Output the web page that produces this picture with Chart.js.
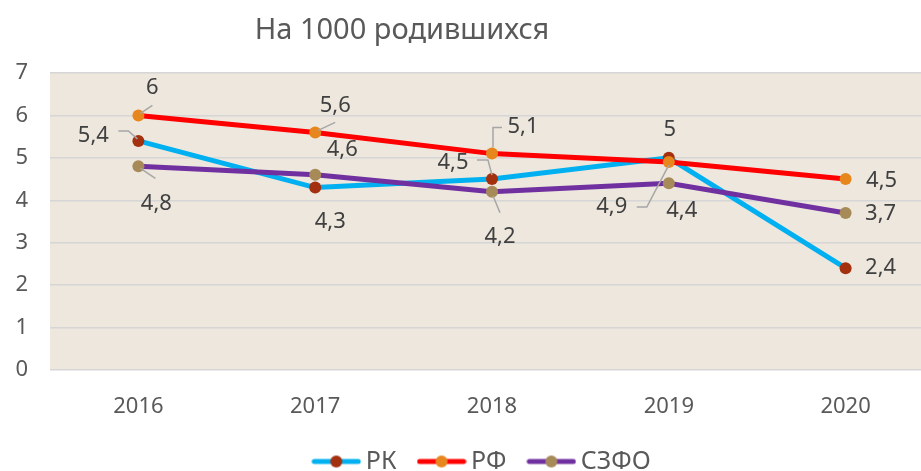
<!DOCTYPE html>
<html>
<head>
<meta charset="utf-8">
<script src="https://cdn.jsdelivr.net/npm/chart.js@4/dist/chart.umd.min.js"></script>
<style>
  html, body { margin: 0; padding: 0; background: #fff; overflow: hidden; }
  #wrap { width: 921px; height: 471px; overflow: hidden; }
</style>
</head>
<body>
<div id="wrap"><canvas id="chart" width="940" height="484"></canvas></div>
<script>
const years = ['2016', '2017', '2018', '2019', '2020'];
const rk = [5.4, 4.3, 4.5, 5.0, 2.4];
const rf = [6.0, 5.6, 5.1, 4.9, 4.5];
const szfo = [4.8, 4.6, 4.2, 4.4, 3.7];
const seriesNames = ['РК', 'РФ', 'СЗФО'];
const titleText = 'На 1000 родившихся';

const FONT = '"Noto Sans", "DejaVu Sans", sans-serif';
const axisColor = '#595959';
const lineColors = ['#00B0F0', '#FF0000', '#7030A0'];
const dotColors = ['#A3300E', '#E8861E', '#A68A57'];

// label placement per point: [dx, dy, leader points relative to the marker]
const labelPlace = [
  [[-45, -5, [[-20, -10], [-10, -10], [-1, -2]]], [15, 34], [-39, -16, [[-15, -19], [-4, -19], [0, -4]]], [1, -28], [35, 0]],
  [[14, -28, [[2, -2], [14, -10]]], [20, -27, [[3, -2], [20, -10]]], [31, -27, [[1, -6], [1, -26], [10, -26]]], [-57, 45, [[0, 3], [-22, 45], [-32, 45]]], [36, 2]],
  [[18, 37, [[2, 2], [17, 12]]], [27, -25], [8, 45, [[1, 4], [8, 21]]], [13, 27], [35, 1]]
];

function legendIcon(line, dot) {
  const c = document.createElement('canvas');
  c.width = 50; c.height = 14;
  const g = c.getContext('2d');
  g.strokeStyle = line; g.lineWidth = 5; g.lineCap = 'round';
  g.beginPath(); g.moveTo(3, 7); g.lineTo(47, 7); g.stroke();
  g.fillStyle = dot;
  g.beginPath(); g.arc(25, 7, 6, 0, Math.PI * 2); g.fill();
  return c;
}
const icons = lineColors.map((c, i) => legendIcon(c, dotColors[i]));

const plotBg = {
  id: 'plotBg',
  afterLayout(chart) {
    // legend in the original sits a little right of centre
    chart.legend.left += 17;
    chart.legend.right += 17;
  },
  beforeDraw(chart) {
    const a = chart.chartArea, ctx = chart.ctx;
    ctx.save();
    ctx.fillStyle = '#EDE7DD';
    ctx.fillRect(a.left, a.top, a.right - a.left, a.bottom - a.top);
    ctx.restore();
  }
};

const titlePlugin = {
  id: 'titleText',
  afterDraw(chart) {
    const ctx = chart.ctx;
    ctx.save();
    ctx.font = '29px ' + FONT;
    ctx.fillStyle = axisColor;
    ctx.textAlign = 'center';
    ctx.textBaseline = 'middle';
    ctx.fillText(titleText, 402, 31);
    ctx.restore();
  }
};

const valueLabels = {
  id: 'valueLabels',
  afterDatasetsDraw(chart) {
    const ctx = chart.ctx;
    ctx.save();
    ctx.font = '22px ' + FONT;
    ctx.fillStyle = '#404040';
    ctx.textAlign = 'center';
    ctx.textBaseline = 'middle';
    chart.data.datasets.forEach((ds, di) => {
      const meta = chart.getDatasetMeta(di);
      meta.data.forEach((pt, i) => {
        const p = labelPlace[di][i];
        if (p[2]) {
          ctx.strokeStyle = '#A6A6A6';
          ctx.lineWidth = 1.5;
          ctx.beginPath();
          p[2].forEach((q, k) => {
            if (k === 0) ctx.moveTo(pt.x + q[0], pt.y + q[1]);
            else ctx.lineTo(pt.x + q[0], pt.y + q[1]);
          });
          ctx.stroke();
        }
        const txt = String(ds.data[i]).replace('.', ',');
        ctx.fillText(txt, pt.x + p[0], pt.y + p[1]);
      });
    });
    ctx.restore();
  }
};

function series(idx, data, order) {
  return {
    label: seriesNames[idx], data, order,
    borderColor: lineColors[idx],
    backgroundColor: lineColors[idx],
    borderWidth: 5,
    pointStyle: 'circle',
    pointRadius: 6,
    pointHoverRadius: 6,
    pointBackgroundColor: dotColors[idx],
    pointBorderColor: dotColors[idx],
    pointBorderWidth: 0,
    tension: 0
  };
}

new Chart(document.getElementById('chart'), {
  type: 'line',
  data: {
    labels: years,
    datasets: [series(0, rk, 3), series(1, rf, 2), series(2, szfo, 1)]
  },
  options: {
    responsive: false,
    animation: false,
    layout: { padding: { top: 73, right: 4, left: 0, bottom: 0 } },
    scales: {
      x: {
        offset: true,
        afterFit(scale) { scale.height = 51; },
        grid: { display: false },
        border: { display: false },
        ticks: { color: axisColor, font: { size: 22, family: FONT }, padding: 16 }
      },
      y: {
        min: 0, max: 7,
        afterFit(scale) { scale.width = 50; },
        grid: { color: '#D6D6D6', lineWidth: 1.5, drawTicks: false },
        border: { display: false },
        ticks: { stepSize: 1, color: axisColor, font: { size: 22, family: FONT }, padding: 22 }
      }
    },
    plugins: {
      title: { display: false },
      tooltip: { enabled: false },
      legend: {
        position: 'bottom',
        labels: {
          usePointStyle: true,
          pointStyleWidth: 34,
          padding: 28,
          color: axisColor,
          font: { size: 25, family: FONT },
          sort: (a, b) => a.datasetIndex - b.datasetIndex,
          generateLabels(chart) {
            const items = Chart.defaults.plugins.legend.labels.generateLabels(chart);
            items.forEach(it => { it.pointStyle = icons[it.datasetIndex]; });
            return items;
          }
        }
      }
    }
  },
  plugins: [plotBg, titlePlugin, valueLabels]
});
</script>
</body>
</html>
